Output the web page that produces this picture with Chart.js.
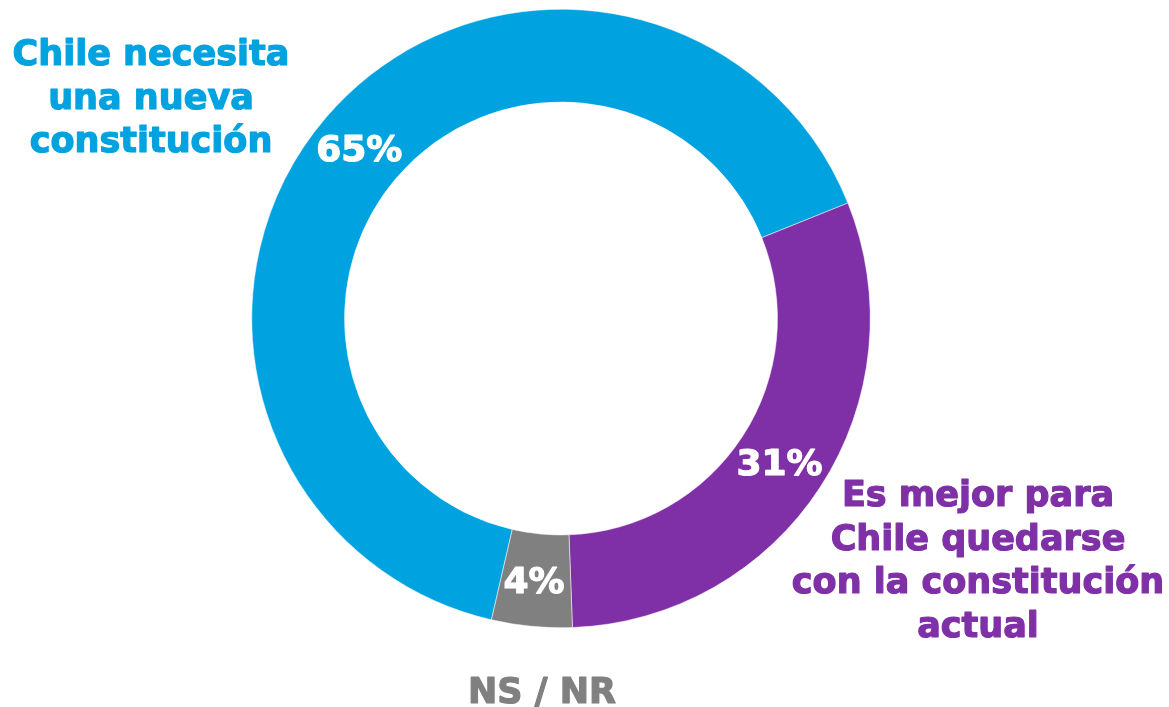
<!DOCTYPE html>
<html>
<head>
<meta charset="utf-8">
<script src="https://cdn.jsdelivr.net/npm/chart.js@4/dist/chart.umd.min.js"></script>
<style>
  html, body { margin: 0; background: #fff; }
  #wrap { width: 1169px; height: 707px; position: relative; }
</style>
</head>
<body>
<div id="wrap"><canvas id="chart"></canvas></div>
<script>
const categories = ['Chile necesita una nueva constitución', 'Es mejor para Chile quedarse con la constitución actual', 'NS / NR'];
const values = [65.3, 30.5, 4.2];
const colors = ['#00A3E0', '#7F30A6', '#808080'];

// texto de las etiquetas externas, por línea
const labelLines = [
    ['Chile necesita', 'una nueva', 'constitución'],
    ['Es mejor para', 'Chile quedarse', 'con la constitución', 'actual'],
    ['NS / NR']
];

// dónde va cada etiqueta externa (centro x, primera línea base)
const labelSpots = [
    { x: 151, y: 65 },
    { x: 978, y: 506 },
    { x: 542, y: 703 }
];

const FONT = '"DejaVu Sans", sans-serif';

// texto un poco más grueso, como en el original
function heavyText(ctx, text, x, y, color) {
    ctx.fillStyle = color;
    ctx.strokeStyle = color;
    ctx.lineWidth = 1.2;
    ctx.lineJoin = 'round';
    ctx.strokeText(text, x, y);
    ctx.fillText(text, x, y);
}

const labelsPlugin = {
    id: 'labels',
    afterDraw(chart) {
        const ctx = chart.ctx;
        const arcs = chart.getDatasetMeta(0).data;
        ctx.save();
        ctx.textAlign = 'center';
        ctx.textBaseline = 'alphabetic';

        // porcentajes dentro del anillo
        ctx.font = 'bold 36px ' + FONT;
        arcs.forEach((arc, i) => {
            const p = arc.getCenterPoint();
            heavyText(ctx, Math.round(values[i]) + '%', p.x - 2, p.y + 13, '#fff');
        });

        // etiquetas fuera del anillo
        ctx.font = 'bold 35px ' + FONT;
        labelLines.forEach((lines, i) => {
            lines.forEach((line, j) => {
                heavyText(ctx, line, labelSpots[i].x, labelSpots[i].y + j * 43.5, colors[i]);
            });
        });
        ctx.restore();
    }
};

new Chart(document.getElementById('chart'), {
    type: 'doughnut',
    data: {
        labels: categories,
        datasets: [{
            data: values,
            backgroundColor: colors,
            borderColor: '#fff',
            borderWidth: 0.5
        }]
    },
    options: {
        responsive: true,
        maintainAspectRatio: false,
        animation: false,
        cutout: '70%',
        rotation: 193,
        layout: {
            padding: { left: 251.5, right: 298.5, top: 9, bottom: 79 }
        },
        plugins: {
            legend: { display: false },
            tooltip: { enabled: false }
        }
    },
    plugins: [labelsPlugin]
});
</script>
</body>
</html>
